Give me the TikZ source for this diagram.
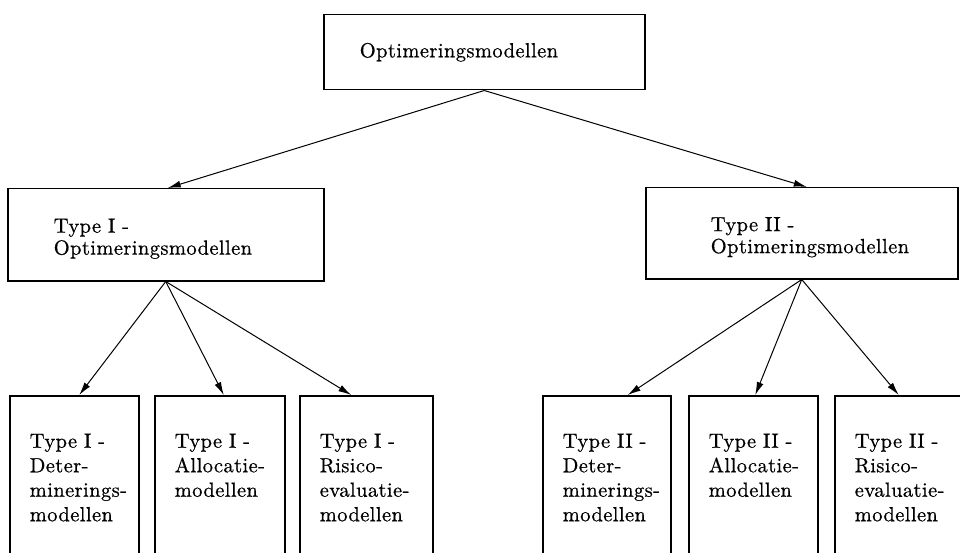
\documentclass[tikz,border=0pt]{standalone}
\usepackage{fontspec}
\setmainfont{lmroman10-regular.otf}[LetterSpace=2, FakeBold=0.6]
\usepackage{tikz}
\usetikzlibrary{arrows.meta}
\hyphenpenalty=10000
\exhyphenpenalty=10000

\begin{document}
\begin{tikzpicture}[x=1pt, y=-1pt,
    box/.style={draw, line width=1.5pt, align=left, anchor=north west,
        font=\fontsize{20.5}{22}\selectfont},
    lowbox/.style={box, inner xsep=20pt, inner ysep=38pt, text height=14pt,
        text depth=140pt, font=\fontsize{20.5}{24.5}\selectfont},
    arr/.style={-{Latex[length=13pt, width=7pt]}, line width=1pt}]
    \path[use as bounding box, clip] (0,0) rectangle (960,553);
    \node[box, inner xsep=36pt, text width=249pt, minimum height=75pt]
        (top) at (323,14) {Optimeringsmodellen};
    \node[box, inner xsep=46pt, text width=224pt, minimum height=92pt,
        text height=22pt] (t1) at (7,188) {Type I -\\ Optimeringsmodellen};
    \node[box, inner xsep=65pt, text width=182pt, minimum height=91pt,
        text height=22pt] (t2) at (645,187) {Type II -\\ Optimeringsmodellen};
    \node[lowbox, text width=89pt] (b1) at (9,395)
        {Type I -\\ Deter-\\ minerings-\\ modellen};
    \node[lowbox, text width=90pt] (b2) at (154,395)
        {Type I -\\ Allocatie-\\ modellen};
    \node[lowbox, text width=93pt] (b3) at (299,395)
        {Type I -\\ Risico-\\ evaluatie-\\ modellen};
    \node[lowbox, text width=88pt] (b4) at (542,395)
        {Type II -\\ Deter-\\ minerings-\\ modellen};
    \node[lowbox, text width=89pt] (b5) at (688,395)
        {Type II -\\ Allocatie-\\ modellen};
    \node[lowbox, text width=88pt] (b6) at (834,395)
        {Type II -\\ Risico-\\ evaluatie-\\ modellen};
    \draw[arr] (top.south) -- ([xshift=2pt]t1.north);
    \draw[arr] (top.south) -- ([xshift=5pt]t2.north);
    \draw[arr] (t1.south) -- ([xshift=5pt]b1.north);
    \draw[arr] (t1.south) -- ([xshift=4pt]b2.north);
    \draw[arr] (t1.south) -- ([xshift=-15pt]b3.north);
    \draw[arr] (t2.south) -- ([xshift=21pt]b4.north);
    \draw[arr] (t2.south) -- ([xshift=2pt]b5.north);
    \draw[arr] (t2.south) -- (b6.north);
\end{tikzpicture}
\end{document}
